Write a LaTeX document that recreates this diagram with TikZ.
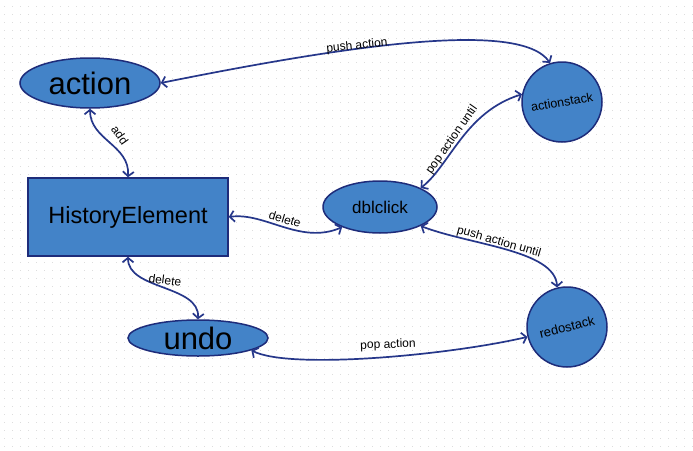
\documentclass[tikz,border=0pt]{standalone}
\usepackage{fontspec}
\setmainfont{Liberation Sans}
\usetikzlibrary{shapes.geometric,arrows.meta}
\definecolor{nodefill}{HTML}{4383C8}
\definecolor{nodeline}{HTML}{1E2C7A}
\definecolor{edgeline}{HTML}{26378A}
\definecolor{gridgray}{HTML}{DDDDDD}
\tikzset{
  ell/.style={ellipse, draw=nodeline, fill=nodefill, line width=1.5pt, inner sep=0pt},
  circ/.style={circle, draw=nodeline, fill=nodefill, line width=1.5pt, inner sep=0pt, minimum size=80pt},
  boxnode/.style={rectangle, draw=nodeline, fill=nodefill, line width=1.5pt, inner sep=0pt, minimum width=200pt, minimum height=78pt},
  conn/.style={draw=edgeline, line width=1.7pt, {Straight Barb[length=4.5pt,width=11pt]}-{Straight Barb[length=4.5pt,width=11pt]}},
  lbl/.style={font=\fontsize{12}{14}\selectfont, inner sep=0pt, text=black}
}
\begin{document}
\begin{tikzpicture}[x=1pt,y=-1pt]
\useasboundingbox (0,0) rectangle (693,450);
\fill[white] (0,0) rectangle (693,450);
\foreach \i in {0,...,86}{
  \foreach \j in {0,...,55}{
    \fill[gridgray] (4+8*\i,6+8*\j) rectangle ++(1,1);
  }
}
\node[ell, minimum width=140pt, minimum height=50pt, font=\fontsize{31}{34}\selectfont] (action) at (90,83) {action};
\node[boxnode, font=\fontsize{23.5}{26}\selectfont] (hist) at (128,217) {HistoryElement};
\node[ell, minimum width=114pt, minimum height=52pt, font=\fontsize{17}{20}\selectfont] (dbl) at (380,207) {dblclick};
\node[circ] (astack) at (562,102) {};
\node[rotate=10, font=\fontsize{12.5}{14}\selectfont, inner sep=0pt] (astacklbl) at (astack.center) {actionstack};
\node[circ] (rstack) at (567,327) {};
\node[rotate=14, font=\fontsize{13}{15}\selectfont, inner sep=0pt] (rstacklbl) at (rstack.center) {redostack};
\node[ell, minimum width=140pt, minimum height=36pt, font=\fontsize{31}{34}\selectfont] (undo) at (198,338) {undo};

\draw[conn] (action.east) .. controls (350,45) and (520,20) .. (astack.107);
\node[lbl, rotate=6] (l1) at (357,46) {push action};

\draw[conn] (action.south) .. controls (90,140) and (130,145) .. (hist.north);
\node[lbl, rotate=-55] (l2) at (120,135) {add};

\draw[conn] (hist.east) .. controls (265,212) and (300,245) .. (dbl.208);
\node[lbl, rotate=-17] (l3) at (285,219) {delete};

\draw[conn] (dbl.25) .. controls (450,165) and (465,112) .. (astack.169);
\node[lbl, rotate=55] (l4) at (452,140) {pop action until};

\draw[conn] (dbl.-25) .. controls (470,245) and (555,250) .. (rstack.104);
\node[lbl, rotate=-16] (l5) at (499,242) {push action until};

\draw[conn] (hist.south) .. controls (128,290) and (200,285) .. (undo.north);
\node[lbl, rotate=-7] (l6) at (165,280) {delete};

\draw[conn] (undo.-13) .. controls (290,370) and (450,355) .. (rstack.194);
\node[lbl, rotate=2] (l7) at (388,345) {pop action};
\end{tikzpicture}
\end{document}
